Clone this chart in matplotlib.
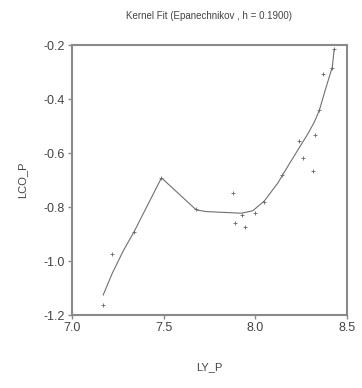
import matplotlib
matplotlib.use("Agg")
import matplotlib.pyplot as plt

# observed data (LY_P, LCO_P)
ly_p = [7.167, 7.216, 7.339, 7.488, 7.678, 7.878, 7.887, 7.929, 7.943, 7.996,
        8.045, 8.146, 8.237, 8.259, 8.313, 8.326, 8.349, 8.367, 8.420, 8.430]
lco_p = [-1.163, -0.975, -0.891, -0.692, -0.809, -0.747, -0.858, -0.830, -0.875, -0.823,
         -0.780, -0.681, -0.554, -0.620, -0.665, -0.533, -0.441, -0.308, -0.285, -0.216]

# kernel fit curve
fit_x = [7.170, 7.220, 7.280, 7.339, 7.488, 7.678, 7.733, 7.923, 7.986,
         8.050, 8.122, 8.190, 8.240, 8.290, 8.322, 8.349, 8.380, 8.420, 8.430]
fit_y = [-1.126, -1.045, -0.962, -0.891, -0.692, -0.811, -0.817, -0.823, -0.814,
         -0.777, -0.712, -0.635, -0.580, -0.525, -0.485, -0.442, -0.370, -0.281, -0.216]

xticks = [7.0, 7.5, 8.0, 8.5]
yticks = [-1.2, -1.0, -0.8, -0.6, -0.4, -0.2]

plt.rcParams['font.family'] = ['Liberation Sans', 'DejaVu Sans']

fig = plt.figure(figsize=(3.62, 3.88), dpi=100)
ax = fig.add_axes([72/362, 1 - 315/388, (347-72)/362, (315-45)/388])

ax.plot(fit_x, fit_y, color='#707070', lw=0.8)
ax.scatter(ly_p, lco_p, marker='+', s=6, color='#666666', linewidths=0.6)

ax.set_xlim(7.0, 8.5)
ax.set_ylim(-1.2, -0.2)
ax.set_xticks(xticks)
ax.set_xticklabels([f"{t:.1f}" for t in xticks])
ax.set_yticks(yticks)
ax.set_yticklabels([f"{t:.1f}" for t in yticks])

for s in ax.spines.values():
    s.set_color('#8a8a8a')
    s.set_linewidth(1.5)
ax.tick_params(direction='out', length=3, width=1, color='#8a8a8a',
               labelsize=9, labelcolor='#444444', pad=2)

ax.set_xlabel("LY_P", fontsize=8, color='#444444', labelpad=20)
ax.set_ylabel("LCO_P", fontsize=8, color='#444444', labelpad=12)
fig.text((72+347)/2/362, 1 - 16/388, "Kernel Fit (Epanechnikov , h = 0.1900)",
         ha='center', va='center', fontsize=7, color='#444444')

fig.savefig("out.png", dpi=100)
